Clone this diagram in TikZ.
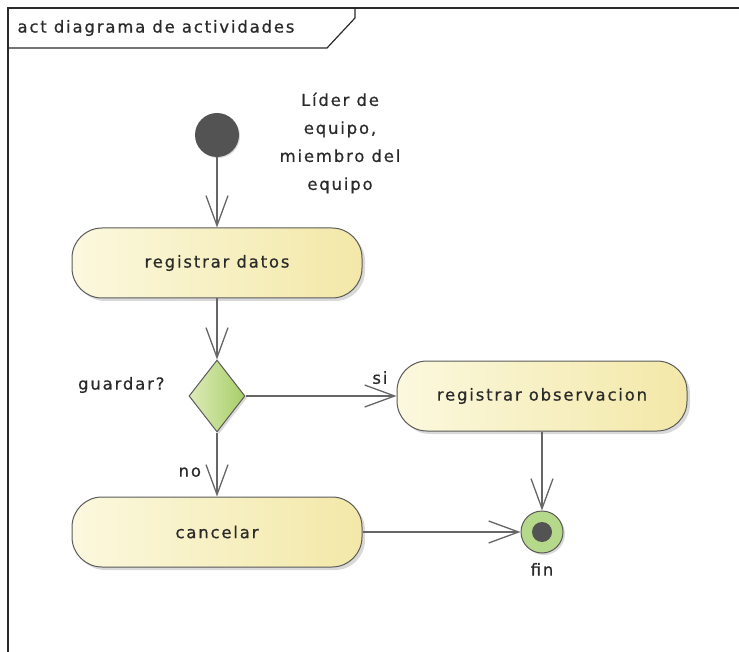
\documentclass[tikz,border=0pt]{standalone}
\usepackage{fontspec}
\setmainfont{DejaVu Sans}[LetterSpace=11, FakeBold=0.6]
\usetikzlibrary{arrows.meta,shapes.geometric,shadows}

\definecolor{accionIzq}{HTML}{FBF8DE}
\definecolor{accionDer}{HTML}{F3E8A8}
\definecolor{decisionIzq}{HTML}{DDEBB8}
\definecolor{decisionDer}{HTML}{A8CE68}
\definecolor{finVerde}{HTML}{B5D98A}
\definecolor{borde}{HTML}{5A5A5A}
\definecolor{linea}{HTML}{666666}
\definecolor{oscuro}{HTML}{535353}
\definecolor{texto}{HTML}{2A2A2A}

\tikzset{
  accion/.style={rounded corners=30pt, draw=borde, line width=1pt,
    left color=accionIzq, right color=accionDer,
    minimum width=290pt, minimum height=70pt,
    drop shadow={shadow xshift=3pt, shadow yshift=-3pt, opacity=0.3}},
  decision/.style={diamond, draw=borde, line width=1pt, inner sep=0pt,
    left color=decisionIzq, right color=decisionDer,
    minimum width=56pt, minimum height=72pt,
    drop shadow={shadow xshift=2pt, shadow yshift=-2pt, opacity=0.3}},
  inicial/.style={circle, fill=oscuro, minimum size=44pt, inner sep=0pt,
    drop shadow={shadow xshift=1pt, shadow yshift=-1pt, opacity=0.3}},
  final/.style={circle, draw=borde, line width=1pt, fill=finVerde,
    minimum size=42pt, inner sep=0pt,
    path picture={\fill[oscuro] (path picture bounding box.center) circle (10pt);},
    drop shadow={shadow xshift=2pt, shadow yshift=-2pt, opacity=0.3}},
  flujo/.style={draw=linea, line width=1.3pt,
    -{Straight Barb[length=30pt, width=22pt, line width=1.3pt]}},
  marco/.style={draw=texto, line width=1.6pt}
}

\begin{document}
\begin{tikzpicture}[x=1pt, y=-1pt, text=texto, font=\fontsize{16.5pt}{28pt}\selectfont]
    \useasboundingbox (0,0) rectangle (739,652);

    % Marco del diagrama
    \draw[marco] (8,652) -- (8,8) -- (739,8);
    \draw[marco, line width=1.2pt] (8,48) -- (327,48) -- (355,18) -- (355,8);
    \node[anchor=west] (titulo) at (14,28) {act diagrama de actividades};

    % Nodos
    \node[inicial] (inicio) at (217,135) {};
    \node[align=center] (actores) at (340,143) {Líder de\\equipo,\\miembro del\\equipo};
    \node[accion] (regDatos) at (217,263) {registrar datos};
    \node[decision] (guardar) at (217,396) {};
    \node[anchor=east] (lblGuardar) at (168,385) {guardar?};
    \node[accion] (regObs) at (542,396) {registrar observacion};
    \node[accion] (cancelar) at (217,532) {cancelar};
    \node[final, label={[yshift=-6pt]below:fin}] (fin) at (542,532) {};

    % Flujos
    \draw[flujo] (inicio) -- (regDatos);
    \draw[flujo] (regDatos) -- (guardar);
    \draw[flujo] (guardar) -- node[pos=0.89, above=8pt] (lblSi) {si} (regObs);
    \draw[flujo] (guardar) -- node[pos=0.62, left=12pt] (lblNo) {no} (cancelar);
    \draw[flujo] (regObs) -- (fin);
    \draw[flujo] (cancelar) -- (fin);
\end{tikzpicture}
\end{document}
